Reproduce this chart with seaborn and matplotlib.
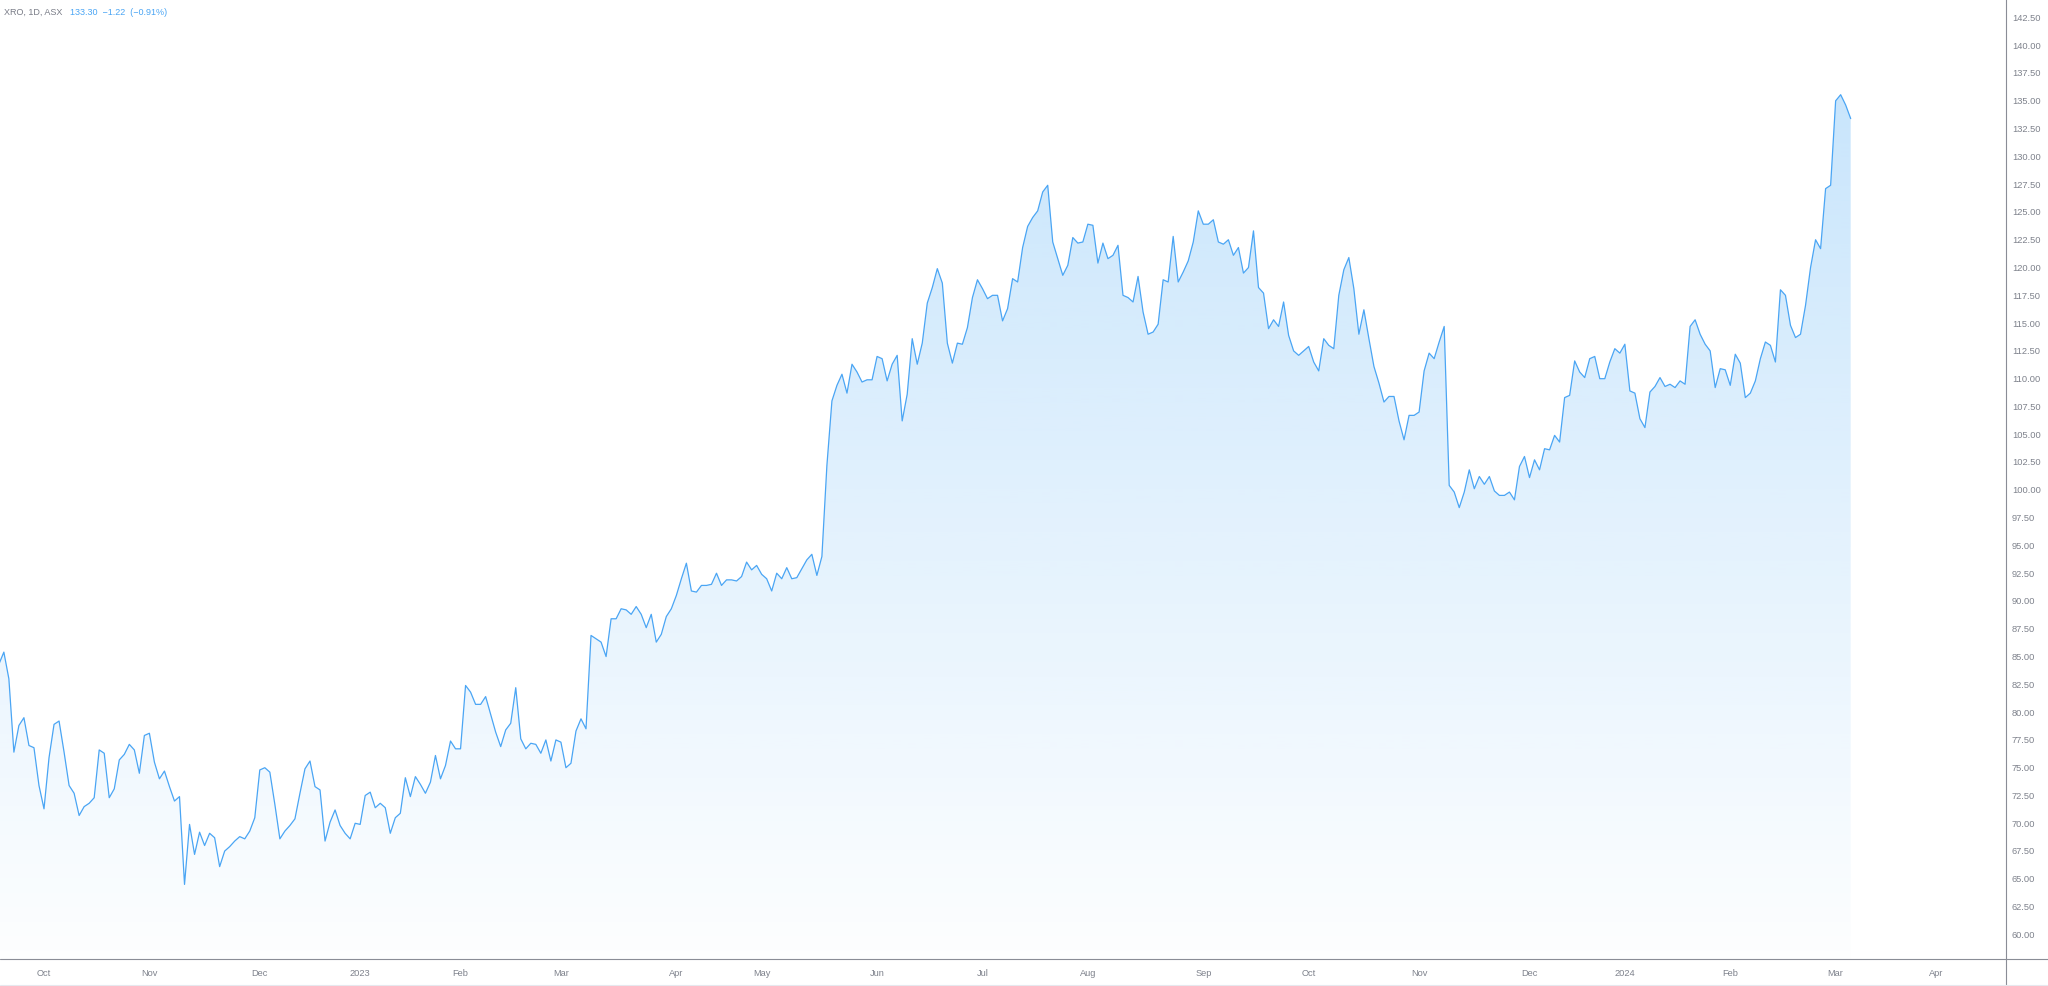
import numpy as np
import pandas as pd
import matplotlib
matplotlib.use("Agg")
import matplotlib.pyplot as plt
from matplotlib.lines import Line2D
import seaborn as sns

# ---------------- data ----------------
ticker_info = "XRO, 1D, ASX"
last_info = "133.30  \u22121.22  (\u22120.91%)"

# daily closes, first bar 2022-09-19
close_sep_dec_2022 = [
    84.2, 85.3, 82.9, 76.3, 78.7, 79.4, 76.9, 76.7, 73.3,
    71.2, 75.8, 78.8, 79.1, 76.3, 73.3, 72.6, 70.6, 71.4, 71.7, 72.2, 76.5, 76.2, 72.2, 73.0, 75.6, 76.1, 77.0, 76.5, 74.4, 77.8,
    78.0, 75.4, 73.9, 74.6, 73.2, 71.9, 72.3, 64.4, 69.8, 67.1, 69.1, 67.9, 69.0, 68.6, 66.0, 67.4, 67.8, 68.3, 68.7, 68.5, 69.2, 70.4,
    74.7, 74.9, 74.5, 71.6, 68.5, 69.2, 69.7, 70.3, 72.6, 74.8, 75.5, 73.2, 72.9, 68.3, 70.0, 71.1, 69.7, 69.0, 68.5, 69.9,
]
close_jan_jun_2023 = [
    69.8, 72.4, 72.7, 71.3, 71.7, 71.3, 69.0, 70.4, 70.8, 74.0, 72.3, 74.1, 73.4, 72.6, 73.6, 76.0, 73.9, 75.1, 77.3, 76.6,
    76.6, 82.3, 81.7, 80.6, 80.6, 81.3, 79.7, 78.1, 76.8, 78.3, 78.9, 82.1, 77.5, 76.6, 77.1, 77.0, 76.2, 77.4, 75.5, 77.4,
    77.2, 74.9, 75.3, 78.2, 79.3, 78.4, 86.8, 86.5, 86.2, 84.9, 88.3, 88.3, 89.2, 89.1, 88.7, 89.4, 88.7, 87.5, 88.7, 86.2, 86.9, 88.5, 89.2,
    90.4, 91.9, 93.3, 90.8, 90.7, 91.3, 91.3, 91.4, 92.4, 91.3, 91.8, 91.8, 91.7, 92.1, 93.4, 92.7, 93.1,
    92.3, 91.9, 90.8, 92.4, 91.9, 92.9, 91.9, 92.0, 92.8, 93.6, 94.1, 92.2, 93.9, 102.1, 107.9, 109.3, 110.3, 108.6, 111.2, 110.5, 109.6, 109.8, 109.8,
    111.9, 111.7, 109.7, 111.2, 112.0, 106.1, 108.5, 113.5, 111.2, 113.1, 116.7, 118.1, 119.8, 118.5, 113.1, 111.3, 113.1, 113.0, 114.5, 117.2, 118.8,
]
close_jul_dec_2023 = [
    118.0, 117.1, 117.4, 117.4, 115.1, 116.2, 118.9, 118.6, 121.7, 123.6, 124.4, 125.0, 126.7, 127.3, 122.2, 120.7, 119.2, 120.1, 122.6, 122.1, 122.2,
    123.8, 123.7, 120.3, 122.1, 120.7, 121.0, 121.9, 117.4, 117.2, 116.8, 119.1, 115.9, 113.9, 114.1, 114.8, 118.8, 118.6, 122.7, 118.6, 119.5, 120.5, 122.2, 125.0,
    123.8, 123.8, 124.2, 122.2, 122.0, 122.4, 121.0, 121.7, 119.4, 119.9, 123.2, 118.1, 117.6, 114.4, 115.2, 114.6, 116.8, 113.8, 112.4, 112.0, 112.4,
    112.8, 111.4, 110.6, 113.5, 112.9, 112.6, 117.4, 119.7, 120.8, 118.0, 113.9, 116.1, 113.5, 111.0, 109.5, 107.8, 108.3, 108.3, 106.1, 104.4, 106.6, 106.6,
    106.9, 110.6, 112.2, 111.7, 113.2, 114.6, 100.3, 99.7, 98.3, 99.7, 101.7, 100.0, 101.1, 100.4, 101.1, 99.8, 99.4, 99.4, 99.7, 99.0, 102.0, 102.9,
    101.0, 102.6, 101.7, 103.6, 103.5, 104.8, 104.2, 108.2, 108.4, 111.5, 110.5, 110.0, 111.7, 111.9, 109.9, 109.9, 111.4, 112.6, 112.2,
]
close_jan_mar_2024 = [
    113.0, 108.8, 108.6, 106.3, 105.5, 108.7, 109.2, 110.0, 109.2, 109.4, 109.1, 109.7, 109.4, 114.6, 115.2, 113.9, 113.0, 112.4, 109.1, 110.8, 110.7,
    109.3, 112.1, 111.3, 108.2, 108.6, 109.7, 111.7, 113.2, 112.9, 111.4, 117.9, 117.4, 114.7, 113.6, 113.9, 116.5, 119.9, 122.4, 121.6, 127.0, 127.3,
    134.9, 135.45, 134.52, 133.30,
]

asx_holidays = ["2022-09-22", "2022-12-26", "2022-12-27", "2023-01-02", "2023-01-26",
                "2023-04-07", "2023-04-10", "2023-04-25", "2023-06-12", "2023-12-25",
                "2023-12-26", "2024-01-01", "2024-01-26", "2024-03-29", "2024-04-01"]
first_day = "2022-09-19"
axis_end_day = "2024-04-30"

price_ticks = np.arange(60.0, 142.51, 2.5)
price_range = (57.69, 144.06)

close = np.array(close_sep_dec_2022 + close_jan_jun_2023 + close_jul_dec_2023 + close_jan_mar_2024)
days = pd.bdate_range(first_day, axis_end_day, freq="C", holidays=asx_holidays)
bar = np.arange(len(close))
df = pd.DataFrame({"bar": bar, "close": close, "date": days[:len(close)]})

# month ticks at first trading day of each month
tick_pos, tick_lab = [], []
for k in range(1, len(days)):
    if days[k].month != days[k - 1].month:
        tick_pos.append(k)
        tick_lab.append(str(days[k].year) if days[k].month == 1 else days[k].strftime("%b"))

# ---------------- style ----------------
sns.set_style("white")
plt.rcParams["font.family"] = ["Liberation Sans", "DejaVu Sans"]

W, H = 2048, 987
fig = plt.figure(figsize=(W / 100, H / 100), dpi=100)
fig.patch.set_facecolor("white")
ax_right_px, ax_bottom_px = 2006, 960
ax = fig.add_axes([0, (H - ax_bottom_px) / H, ax_right_px / W, ax_bottom_px / H])
ax.set_facecolor("white")

line_color = "#4aa5f4"
axis_color = "#8a8d96"
label_color = "#7e828c"

# x scale: Oct 3 2022 (bar 9) at px 44, 5.0186 px per bar
px_per_bar = 5.0186
x_left = 9 - 44 / px_per_bar
x_right = 9 + (ax_right_px - 44) / px_per_bar
ax.set_xlim(x_left, x_right)
ax.set_ylim(*price_range)

# gradient fill under the line
n = 256
rgba = np.zeros((n, 1, 4))
rgba[..., 0] = 33 / 255
rgba[..., 1] = 150 / 255
rgba[..., 2] = 243 / 255
rgba[..., 3] = np.linspace(0.27, 0.01, n)[:, None]
im = ax.imshow(rgba, extent=[x_left, x_right, price_range[0], price_range[1]],
               aspect="auto", origin="upper", zorder=1, interpolation="bilinear")
poly = ax.fill_between(df["bar"], df["close"], price_range[0], facecolor="none", edgecolor="none")
im.set_clip_path(poly.get_paths()[0], transform=ax.transData)

sns.lineplot(data=df, x="bar", y="close", color=line_color, linewidth=0.9, ax=ax, zorder=3)

ax.set_xlim(x_left, x_right)
ax.set_ylim(*price_range)
ax.set_xlabel("")
ax.set_ylabel("")

ax.yaxis.tick_right()
ax.set_yticks(price_ticks)
ax.set_yticklabels([f"{v:.2f}" for v in price_ticks])
ax.set_xticks(tick_pos)
ax.set_xticklabels(tick_lab)
ax.tick_params(axis="y", length=0, pad=4.3, labelsize=6.7, labelcolor=label_color)
ax.tick_params(axis="x", length=0, pad=6.5, labelsize=6.7, labelcolor=label_color)
ax.grid(False)

for s in ["top", "left", "right", "bottom"]:
    ax.spines[s].set_visible(False)

# pane borders (price scale and time scale separators)
fig.add_artist(Line2D([ax_right_px / W, ax_right_px / W], [0, 1], transform=fig.transFigure,
                      color=axis_color, linewidth=0.8))
fig.add_artist(Line2D([0, 1], [(H - ax_bottom_px) / H] * 2, transform=fig.transFigure,
                      color=axis_color, linewidth=0.8))
fig.add_artist(Line2D([0, 1], [1.2 / H] * 2, transform=fig.transFigure,
                      color="#e6e8ee", linewidth=0.8))

# header
ty = 1 - 12.7 / H
fig.text(4 / W, ty, ticker_info, color="#787b86", fontsize=6.5, va="center", ha="left")
fig.text(70 / W, ty, last_info, color=line_color, fontsize=6.5, va="center", ha="left")

fig.savefig("out.png", dpi=100, facecolor="white")
